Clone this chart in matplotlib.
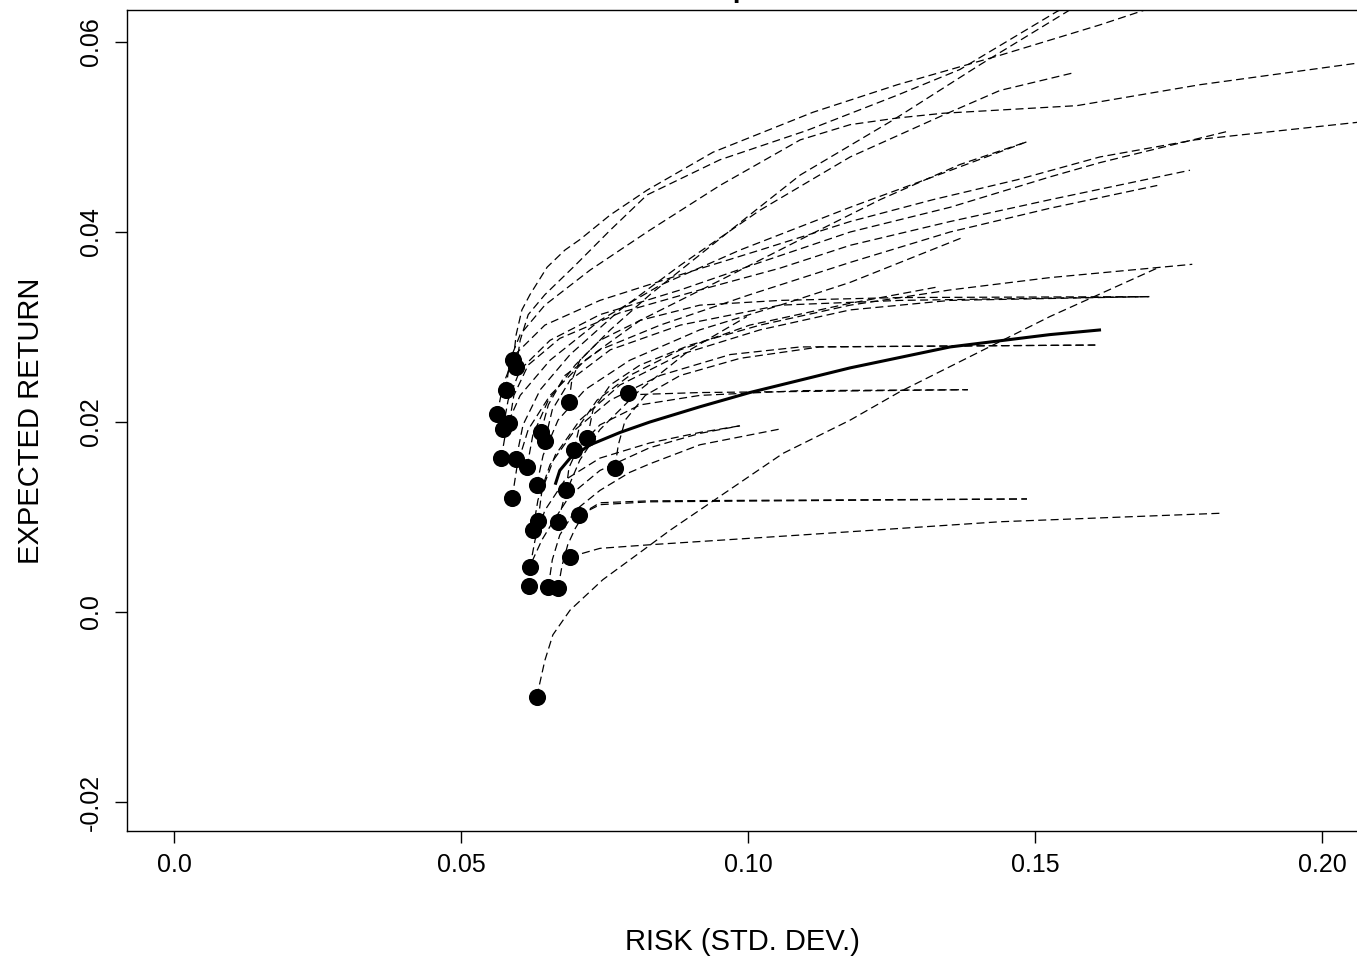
import matplotlib
matplotlib.use("Agg")
import matplotlib.pyplot as plt

plt.rcParams["font.family"] = ["Liberation Sans", "DejaVu Sans"]

# minimum-variance portfolio of each resampled frontier
min_var_risk = [0.0591, 0.0596, 0.0578, 0.0563, 0.0584, 0.0573, 0.0570, 0.0596, 0.0615,
                0.0589, 0.0639, 0.0646, 0.0688, 0.0791, 0.0720, 0.0697, 0.0632, 0.0683,
                0.0768, 0.0706, 0.0669, 0.0634, 0.0625, 0.0620, 0.0690, 0.0618, 0.0652,
                0.0669, 0.0632]
min_var_ret = [0.0265, 0.0258, 0.0234, 0.0208, 0.0199, 0.0193, 0.0162, 0.0161, 0.0153,
               0.0120, 0.0189, 0.0180, 0.0221, 0.0231, 0.0183, 0.0171, 0.0134, 0.0128,
               0.0152, 0.0102, 0.0095, 0.0096, 0.0086, 0.0047, 0.0058, 0.0027, 0.0026,
               0.0025, -0.0089]

# resampled frontiers (risk, expected return)
frontier_risk = [
    [0.0591, 0.0596, 0.0606, 0.0620, 0.0650, 0.0681, 0.0707, 0.0760, 0.0824, 0.0939, 0.1113, 0.1260, 0.1439, 0.1613, 0.1683, 0.1718],
    [0.0596, 0.0603, 0.0617, 0.0646, 0.0699, 0.0760, 0.0824, 0.0951, 0.1103, 0.1260, 0.1369, 0.1538, 0.1570],
    [0.0578, 0.0585, 0.0603, 0.0646, 0.0725, 0.0829, 0.0951, 0.1091, 0.1178, 0.1260, 0.1340, 0.1573, 0.1787, 0.2101],
    [0.0563, 0.0573, 0.0594, 0.0646, 0.0742, 0.0882, 0.1021, 0.1178, 0.1322, 0.1469, 0.1613, 0.1779, 0.2101],
    [0.0573, 0.0582, 0.0603, 0.0655, 0.0742, 0.0882, 0.1021, 0.1178, 0.1352, 0.1526, 0.1613, 0.1836],
    [0.0584, 0.0592, 0.0617, 0.0672, 0.0777, 0.0916, 0.1056, 0.1178, 0.1352, 0.1526, 0.1770],
    [0.0570, 0.0580, 0.0603, 0.0655, 0.0742, 0.0847, 0.0986, 0.1178, 0.1340, 0.1486],
    [0.0596, 0.0608, 0.0638, 0.0690, 0.0777, 0.0882, 0.1021, 0.1178, 0.1340, 0.1439, 0.1570],
    [0.0615, 0.0625, 0.0652, 0.0699, 0.0760, 0.0829, 0.0916, 0.1003, 0.1091, 0.1253, 0.1404, 0.1556, 0.1587],
    [0.0589, 0.0598, 0.0617, 0.0655, 0.0716, 0.0812, 0.0951, 0.1091, 0.1230, 0.1369, 0.1486],
    [0.0639, 0.0652, 0.0681, 0.0742, 0.0847, 0.1003, 0.1178, 0.1352, 0.1526, 0.1713],
    [0.0646, 0.0659, 0.0690, 0.0760, 0.0882, 0.1056, 0.1265, 0.1699],
    [0.0688, 0.0693, 0.0707, 0.0742, 0.0812, 0.0916, 0.1056, 0.1265, 0.1699],
    [0.0791, 0.0812, 0.0916, 0.1383],
    [0.0720, 0.0730, 0.0760, 0.0812, 0.0899, 0.1021, 0.1178, 0.1352, 0.1526, 0.1774],
    [0.0768, 0.0774, 0.0786, 0.0821, 0.0882, 0.0986, 0.1125, 0.1605],
    [0.0683, 0.0688, 0.0704, 0.0742, 0.0812, 0.0916, 0.1091, 0.1383],
    [0.0697, 0.0707, 0.0737, 0.0794, 0.0882, 0.1003, 0.1178, 0.1329],
    [0.0706, 0.0742, 0.0829, 0.1486],
    [0.0669, 0.0681, 0.0707, 0.0742, 0.0812, 0.0899, 0.0998],
    [0.0690, 0.0742, 0.0834, 0.1091, 0.1439, 0.1826],
    [0.0632, 0.0646, 0.0660, 0.0690, 0.0747, 0.0817, 0.0864, 0.1061, 0.1178, 0.1265, 0.1526, 0.1713],
    [0.0632, 0.0643, 0.0669, 0.0716, 0.0794, 0.0916, 0.1056, 0.1178, 0.1373],
    [0.0634, 0.0641, 0.0664, 0.0707, 0.0777, 0.0882, 0.1021, 0.1178, 0.1352, 0.1699],
    [0.0625, 0.0634, 0.0655, 0.0699, 0.0760, 0.0847, 0.0969, 0.1091, 0.1605],
    [0.0620, 0.0629, 0.0646, 0.0681, 0.0742, 0.0829, 0.0916, 0.0986],
    [0.0618, 0.0625, 0.0641, 0.0659, 0.0690, 0.0742, 0.0829, 0.0916, 0.0986],
    [0.0652, 0.0659, 0.0672, 0.0699, 0.0742, 0.0794, 0.0829, 0.0916, 0.1059],
    [0.0669, 0.0676, 0.0686, 0.0699, 0.0716, 0.0742, 0.0829, 0.1486],
]
frontier_ret = [
    [0.0265, 0.0292, 0.0318, 0.0334, 0.0363, 0.0381, 0.0392, 0.0418, 0.0444, 0.0484, 0.0526, 0.0555, 0.0586, 0.0618, 0.0632, 0.0639],
    [0.0258, 0.0286, 0.0313, 0.0334, 0.0365, 0.0402, 0.0439, 0.0476, 0.0507, 0.0544, 0.0571, 0.0632, 0.0642],
    [0.0234, 0.0265, 0.0292, 0.0323, 0.0360, 0.0402, 0.0449, 0.0497, 0.0513, 0.0520, 0.0525, 0.0533, 0.0555, 0.0581],
    [0.0208, 0.0239, 0.0271, 0.0302, 0.0328, 0.0355, 0.0381, 0.0411, 0.0434, 0.0455, 0.0479, 0.0497, 0.0518],
    [0.0193, 0.0223, 0.0255, 0.0286, 0.0313, 0.0339, 0.0368, 0.0400, 0.0426, 0.0458, 0.0473, 0.0506],
    [0.0199, 0.0228, 0.0260, 0.0288, 0.0315, 0.0339, 0.0362, 0.0386, 0.0411, 0.0434, 0.0465],
    [0.0162, 0.0197, 0.0228, 0.0265, 0.0307, 0.0344, 0.0381, 0.0426, 0.0462, 0.0495],
    [0.0161, 0.0197, 0.0234, 0.0271, 0.0318, 0.0365, 0.0423, 0.0479, 0.0523, 0.0549, 0.0568],
    [0.0153, 0.0186, 0.0223, 0.0260, 0.0297, 0.0334, 0.0376, 0.0418, 0.0460, 0.0518, 0.0576, 0.0632, 0.0644],
    [0.0120, 0.0155, 0.0192, 0.0228, 0.0265, 0.0307, 0.0349, 0.0392, 0.0434, 0.0471, 0.0495],
    [0.0189, 0.0218, 0.0249, 0.0276, 0.0302, 0.0334, 0.0368, 0.0400, 0.0425, 0.0449],
    [0.0180, 0.0213, 0.0244, 0.0276, 0.0302, 0.0323, 0.0328, 0.0332],
    [0.0221, 0.0244, 0.0265, 0.0286, 0.0307, 0.0323, 0.0328, 0.0331, 0.0332],
    [0.0231, 0.0229, 0.0231, 0.0234],
    [0.0183, 0.0213, 0.0239, 0.0260, 0.0281, 0.0302, 0.0323, 0.0339, 0.0352, 0.0366],
    [0.0152, 0.0176, 0.0202, 0.0228, 0.0249, 0.0267, 0.0279, 0.0281],
    [0.0128, 0.0152, 0.0173, 0.0197, 0.0218, 0.0228, 0.0233, 0.0234],
    [0.0171, 0.0197, 0.0223, 0.0249, 0.0276, 0.0302, 0.0325, 0.0342],
    [0.0102, 0.0115, 0.0117, 0.0119],
    [0.0095, 0.0123, 0.0160, 0.0192, 0.0234, 0.0276, 0.0311],
    [0.0058, 0.0067, 0.0071, 0.0081, 0.0095, 0.0104],
    [-0.0089, -0.0051, -0.0024, 0.0002, 0.0034, 0.0065, 0.0086, 0.0167, 0.0202, 0.0232, 0.0311, 0.0362],
    [0.0134, 0.0165, 0.0202, 0.0234, 0.0265, 0.0297, 0.0323, 0.0347, 0.0394],
    [0.0096, 0.0128, 0.0165, 0.0202, 0.0239, 0.0271, 0.0297, 0.0318, 0.0328, 0.0332],
    [0.0086, 0.0118, 0.0155, 0.0192, 0.0223, 0.0249, 0.0271, 0.0279, 0.0281],
    [0.0047, 0.0076, 0.0107, 0.0139, 0.0162, 0.0178, 0.0189, 0.0196],
    [0.0027, 0.0055, 0.0076, 0.0094, 0.0123, 0.0149, 0.0173, 0.0188, 0.0196],
    [0.0026, 0.0055, 0.0081, 0.0107, 0.0128, 0.0147, 0.0156, 0.0176, 0.0193],
    [0.0025, 0.0049, 0.0071, 0.0088, 0.0105, 0.0113, 0.0116, 0.0119],
]

# average of the resampled frontiers
avg_risk = [0.0664, 0.0672, 0.0690, 0.0725, 0.0777, 0.0829, 0.0916, 0.1003, 0.1178, 0.1352, 0.1526, 0.1615]
avg_ret = [0.0134, 0.0149, 0.0162, 0.0176, 0.0189, 0.0200, 0.0216, 0.0231, 0.0257, 0.0279, 0.0292, 0.0297]

xticks = [0.0, 0.05, 0.10, 0.15, 0.20]
xtick_labels = ["0.0", "0.05", "0.10", "0.15", "0.20"]
yticks = [-0.02, 0.0, 0.02, 0.04, 0.06]
ytick_labels = ["-0.02", "0.0", "0.02", "0.04", "0.06"]

fig = plt.figure(figsize=(13.57, 9.6), dpi=100)
ax = fig.add_axes([0.0936, 0.1344, 0.9064, 0.8552])

for fr, fm in zip(frontier_risk, frontier_ret):
    ax.plot(fr, fm, color="black", lw=0.9, linestyle=(0, (6.4, 3.5)))

ax.plot(avg_risk, avg_ret, color="black", lw=2.2, solid_capstyle="butt")
ax.plot(min_var_risk, min_var_ret, "o", color="black", markersize=11.3, zorder=5)

ax.set_xlim(-0.0082, 0.2061)
ax.set_ylim(-0.02305, 0.06337)
ax.set_xticks(xticks)
ax.set_xticklabels(xtick_labels)
ax.set_yticks(yticks)
ax.set_yticklabels(ytick_labels, rotation=90, va="center")
ax.tick_params(axis="both", direction="out", length=8.5, width=1, labelsize=18, colors="black")
ax.tick_params(axis="x", pad=7)
ax.tick_params(axis="y", pad=9)
ax.spines["right"].set_visible(False)
for s in ["left", "bottom", "top"]:
    ax.spines[s].set_linewidth(1.0)

ax.set_xlabel("RISK (STD. DEV.)", fontsize=21, labelpad=37)
ax.set_ylabel("EXPECTED RETURN", fontsize=21, labelpad=24)

fig.text(0.5748, 1.003, "Resampled Frontiers", ha="center", va="baseline",
         fontsize=20, fontweight="bold")

fig.savefig("out.png", dpi=100)
